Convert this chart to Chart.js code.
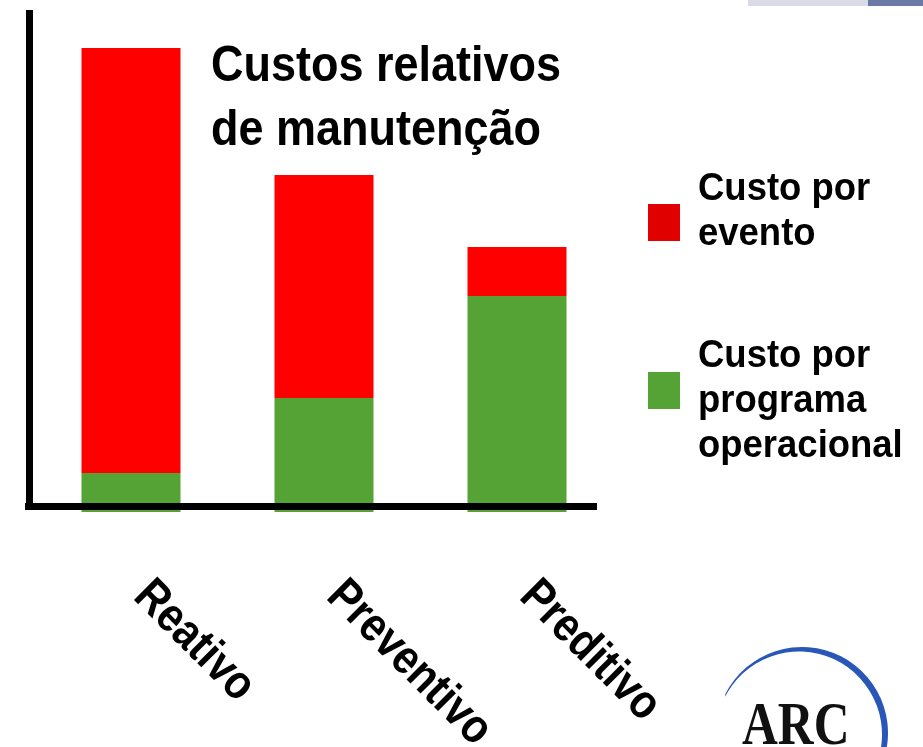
<!DOCTYPE html>
<html lang="pt">
<head>
<meta charset="utf-8">
<title>Custos relativos de manutenção</title>
<script src="https://cdn.jsdelivr.net/npm/chart.js@4/dist/chart.umd.min.js"></script>
<style>
  html, body { margin: 0; padding: 0; background: #fff; }
  .wrap { position: relative; width: 923px; height: 747px; overflow: hidden; }
  .bar-light { position: absolute; left: 748px; top: 0; width: 120px; height: 6px; background: #d9dce6; }
  .bar-dark  { position: absolute; left: 868px; top: 0; width: 55px; height: 6px; background: #6a79a6; }
</style>
</head>
<body>
<div class="wrap">
  <canvas id="chart" width="923" height="747"></canvas>
  <div class="bar-light"></div>
  <div class="bar-dark"></div>
</div>
<script>
// dados
const categories   = ['Reativo', 'Preventivo', 'Preditivo'];
const programCost  = [7.8, 22.8, 43.2];   // custo por programa operacional
const eventCost    = [85, 44.6, 9.8];     // custo por evento
const titleLines   = ['Custos relativos', 'de manutenção'];
const eventLines   = ['Custo por', 'evento'];
const programLines = ['Custo por', 'programa', 'operacional'];

const RED = '#ff0000', RED_KEY = '#e00000';
const GREEN = '#56a335';
const FONT = '"Liberation Sans", Arial, sans-serif';

// texto um pouco condensado na horizontal
function narrowText(ctx, text, x, y, sx) {
  ctx.save();
  ctx.translate(x, y);
  ctx.scale(sx, 1);
  ctx.fillText(text, 0, 0);
  ctx.restore();
}

// eixos, título, legenda, rótulos e logo
const decor = {
  id: 'decor',
  afterDraw(chart) {
    const { ctx, chartArea: a, scales } = chart;
    ctx.save();

    // eixos
    ctx.fillStyle = '#000';
    ctx.fillRect(a.left - 8.5, a.top - 2, 7, a.bottom - a.top);
    ctx.fillRect(a.left - 9.5, a.bottom - 9, a.right - a.left - 7, 7);

    // título
    ctx.fillStyle = '#000';
    ctx.textAlign = 'left';
    ctx.textBaseline = 'alphabetic';
    ctx.font = 'bold 50px ' + FONT;
    titleLines.forEach((t, i) => narrowText(ctx, t, 211, 81 + i * 64, 0.9));

    // legenda
    const keys = [
      { color: RED_KEY, lines: eventLines, box: 204, base: 200 },
      { color: GREEN, lines: programLines, box: 372, base: 367 }
    ];
    ctx.font = 'bold 38px ' + FONT;
    keys.forEach(k => {
      ctx.fillStyle = k.color;
      ctx.fillRect(648, k.box, 32, 37);
      ctx.fillStyle = '#000';
      k.lines.forEach((t, i) => narrowText(ctx, t, 698, k.base + i * 45, 0.96));
    });

    // rótulos das categorias (inclinados)
    ctx.font = 'bold 48px ' + FONT;
    categories.forEach((c, i) => {
      const x = scales.x.getPixelForValue(i);
      ctx.save();
      ctx.translate(x + 1, 598);
      ctx.rotate(Math.PI / 4);
      narrowText(ctx, c, 0, 0, 0.86);
      ctx.restore();
    });

    // logo ARC
    const cx = 802, cy = 733;
    ctx.beginPath();
    ctx.arc(cx, cy, 86, Math.PI * 1.15, Math.PI * 2.2);
    ctx.arc(cx - 3, cy + 1.5, 83, Math.PI * 2.2, Math.PI * 1.15, true);
    ctx.closePath();
    ctx.fillStyle = '#2857b8';
    ctx.fill();

    ctx.font = 'bold 62px "Liberation Serif", "Times New Roman", serif';
    ctx.fillStyle = '#111';
    narrowText(ctx, 'ARC', 742, 744, 0.8);

    ctx.restore();
  }
};

new Chart(document.getElementById('chart'), {
  type: 'bar',
  data: {
    labels: categories,
    datasets: [
      {
        label: programLines.join(' '),
        data: programCost,
        backgroundColor: GREEN,
        borderWidth: 0,
        barPercentage: 0.513,
        categoryPercentage: 1
      },
      {
        label: eventLines.join(' '),
        data: eventCost,
        backgroundColor: RED,
        borderWidth: 0,
        barPercentage: 0.513,
        categoryPercentage: 1
      }
    ]
  },
  options: {
    responsive: false,
    animation: false,
    layout: { padding: { left: 34.5, right: 309.5, top: 12, bottom: 235 } },
    plugins: { legend: { display: false }, tooltip: { enabled: false } },
    scales: {
      x: { stacked: true, display: false },
      y: { stacked: true, display: false, min: 0, max: 100 }
    }
  },
  plugins: [decor]
});
</script>
</body>
</html>
